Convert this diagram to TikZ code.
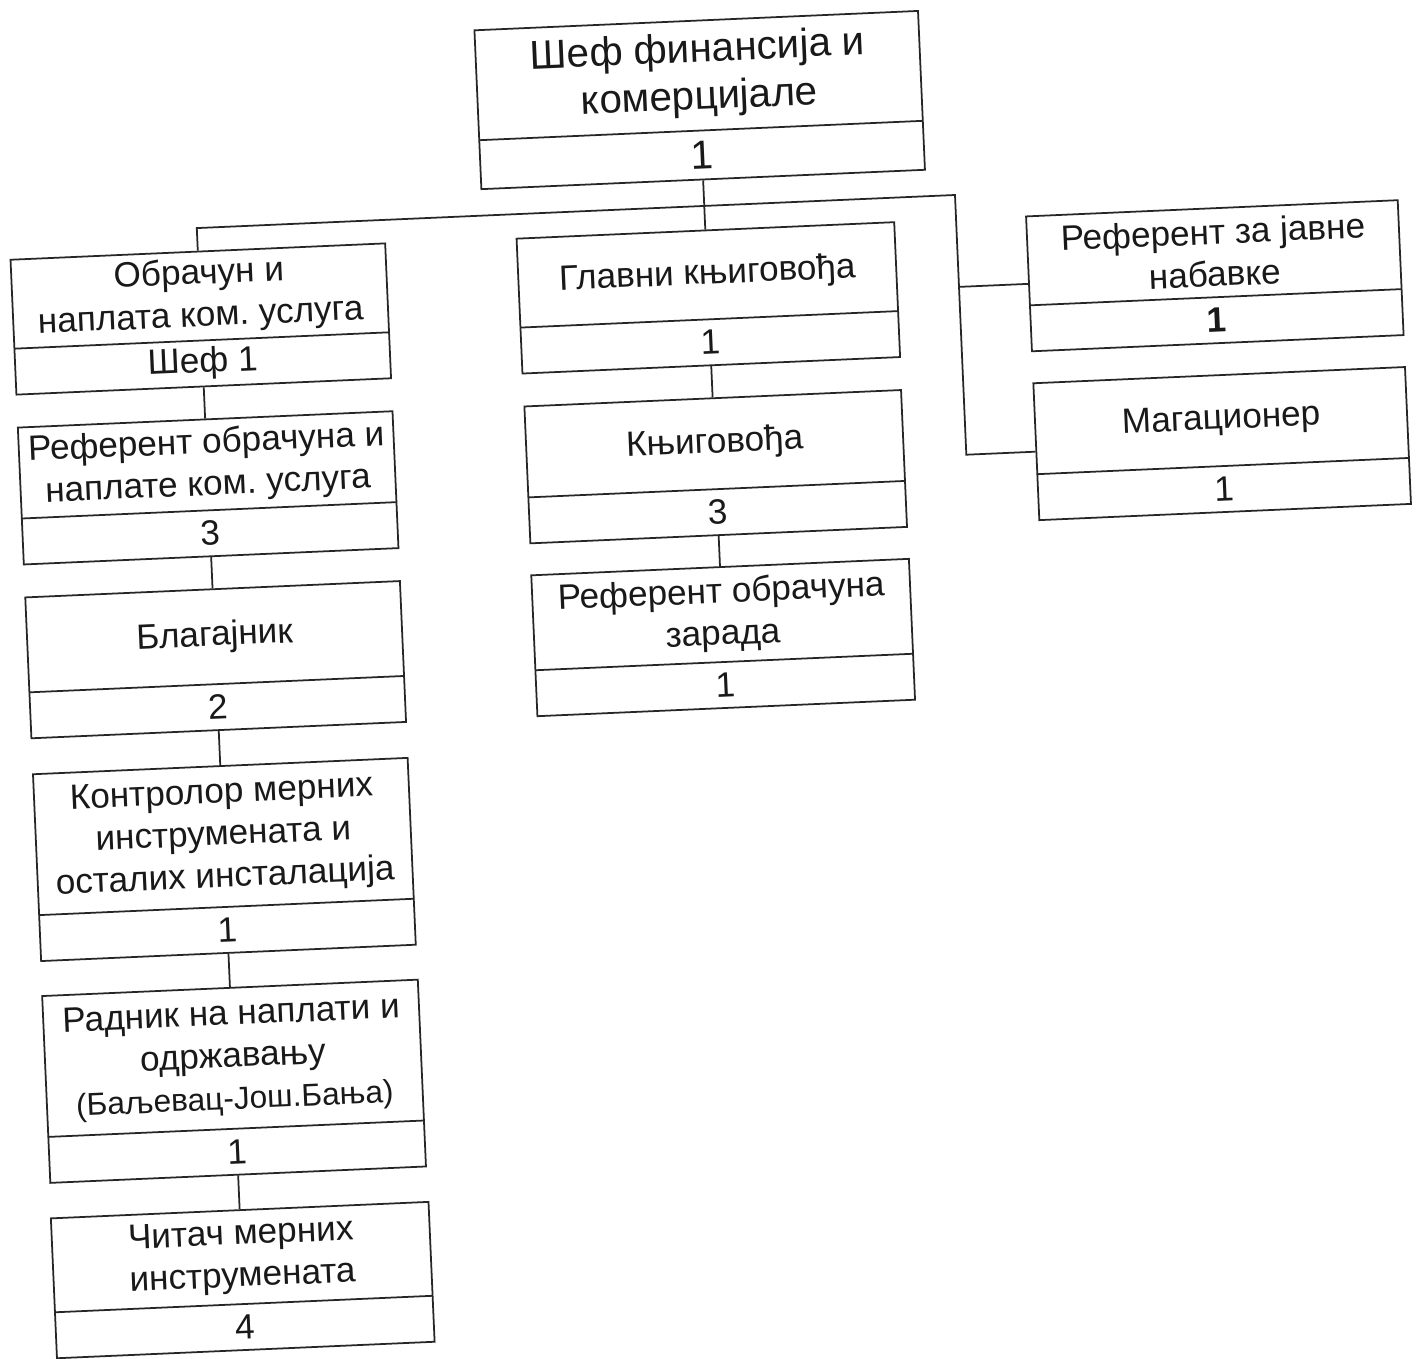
\documentclass[tikz,border=0pt]{standalone}
\usepackage{fontspec}
\setmainfont{Liberation Sans}
\frenchspacing
\newcommand\orgbox[7]{%
  \node[boxl, minimum width={#4*0.02cm}, minimum height={#5*0.02cm}] (#1) at (#2,#3) {};
  \draw[conn] ({#2-#4/2},{#3+#5/2-46}) -- ({#2+#4/2},{#3+#5/2-46});
  \node[lbl] (#1-t) at (#2,{#3-23}) {#6};
  \node[lbl] (#1-n) at (#2,{#3+#5/2-23}) {#7};
}
\begin{document}
\begin{tikzpicture}[x=0.02cm,y=-0.02cm,
  boxl/.style={draw=black!85, line width=1pt, rectangle, inner sep=0pt},
  lbl/.style={align=center, font=\fontsize{20}{24}\selectfont, inner sep=0pt, text=black!90},
  conn/.style={draw=black!85, line width=1pt}]
\useasboundingbox (0,0) rectangle (1427,1359);
\fill[white] (0,0) rectangle (1427,1359);
\begin{scope}[rotate around={2.5:(713,680)}, transform shape]
  % top box
  \node[boxl, minimum width={444*0.02cm}, minimum height={159*0.02cm}] (top) at (725,100) {};
  \draw[conn] (503,130.5) -- (947,130.5);
  \node[lbl, font=\fontsize{23}{27}\selectfont] (top-t) at (725,75) {Шеф финансија и\\комерцијале};
  \node[lbl, font=\fontsize{23}{27}\selectfont] (top-n) at (725,155) {1};
  % left column
  \orgbox{B1}{217}{297}{375}{135}{Обрачун и\\наплата ком. услуга}{Шеф 1}
  \orgbox{B2}{217}{466}{375}{137}{Референт обрачуна и\\наплате ком. услуга}{3}
  \orgbox{B3}{217}{638}{375}{141}{Благајник}{2}
  \orgbox{B4}{217}{838}{375}{187}{Контролор мерних\\инструмената и\\осталих инсталација}{1}
  \orgbox{B5}{217}{1060}{376}{187}{Радник на наплати и\\одржавању\\{\fontsize{18}{24}\selectfont(Баљевац-Још.Бања)}}{1}
  \orgbox{B6}{217}{1259}{378}{140}{Читач мерних\\инструмената}{4}
  % middle column
  \orgbox{M1}{725}{298}{378}{135}{Главни књиговођа}{1}
  \orgbox{M2}{725}{467}{377}{137}{Књиговођа}{3}
  \orgbox{M3}{725}{638}{378}{141}{Референт обрачуна\\зарада}{1}
  % right column
  \orgbox{R1}{1232}{298}{372}{135}{Референт за јавне\\набавке}{\textbf{1}}
  \orgbox{R2}{1232}{466}{372}{137}{Магационер}{1}
  % connectors
  \coordinate (rv) at (976,206);
  \draw[conn] (top.south) -- (M1.north);
  \draw[conn] (B1.north) |- (rv) |- (R2.west);
  \draw[conn] (R1.west) -- (R1.west -| rv);
  \draw[conn] (B1.south) -- (B2.north);
  \draw[conn] (B2.south) -- (B3.north);
  \draw[conn] (B3.south) -- (B4.north);
  \draw[conn] (B4.south) -- (B5.north);
  \draw[conn] (B5.south) -- (B6.north);
  \draw[conn] (M1.south) -- (M2.north);
  \draw[conn] (M2.south) -- (M3.north);
\end{scope}
\end{tikzpicture}
\end{document}
